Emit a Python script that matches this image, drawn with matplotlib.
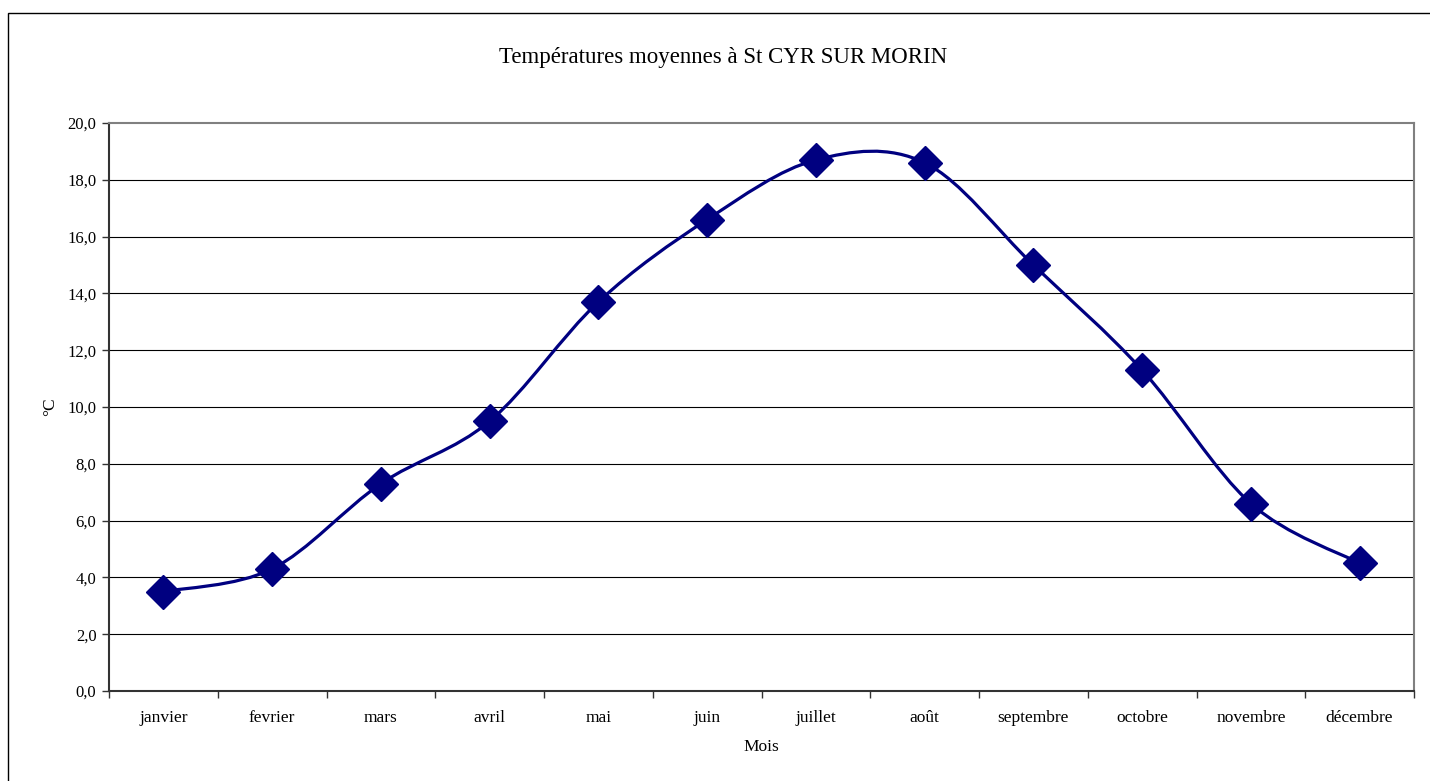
import matplotlib
matplotlib.use("Agg")
import matplotlib.pyplot as plt
from matplotlib.path import Path
from matplotlib.patches import PathPatch, Rectangle
from matplotlib.ticker import FuncFormatter, FixedLocator
import numpy as np

plt.rcParams['font.family'] = ['Liberation Serif', 'DejaVu Serif']

mois = ["janvier", "fevrier", "mars", "avril", "mai", "juin", "juillet",
        "août", "septembre", "octobre", "novembre", "décembre"]
temperatures = [3.5, 4.3, 7.3, 9.5, 13.7, 16.6, 18.7, 18.6, 15.0, 11.3, 6.6, 4.5]
y_ticks = [0, 2, 4, 6, 8, 10, 12, 14, 16, 18, 20]
titre = "Températures moyennes à St CYR SUR MORIN"

W, H = 1430, 781
fig = plt.figure(figsize=(W / 100, H / 100), dpi=100)
fig.patch.set_facecolor('white')

# outer chart border
fig.patches.append(Rectangle((8 / W, -0.01), 1.5, 1 - 13 / H + 0.01,
                             transform=fig.transFigure, fill=False,
                             edgecolor='black', linewidth=1.0))

ax = fig.add_axes([109 / W, 1 - 691 / H, (1414 - 109) / W, (691 - 123) / H])
x = np.arange(len(mois))
ax.set_xlim(-0.5, len(mois) - 0.5)
ax.set_ylim(0, 20)

# gridlines
for t in y_ticks[1:-1]:
    ax.axhline(t, color='black', linewidth=0.8, zorder=1)

# smoothed line (Catmull-Rom style bezier like Excel)
pts = np.column_stack([x, temperatures]).astype(float)
verts = [tuple(pts[0])]
codes = [Path.MOVETO]
n = len(pts)
for i in range(n - 1):
    p0 = pts[i - 1] if i > 0 else pts[i]
    p1 = pts[i]
    p2 = pts[i + 1]
    p3 = pts[i + 2] if i + 2 < n else pts[i + 1]
    c1 = p1 + (p2 - p0) / 6.0
    c2 = p2 - (p3 - p1) / 6.0
    verts += [tuple(c1), tuple(c2), tuple(p2)]
    codes += [Path.CURVE4] * 3
ax.add_patch(PathPatch(Path(verts, codes), facecolor='none',
                       edgecolor='#000080', linewidth=2.3, zorder=3))
ax.plot(x, temperatures, linestyle='none', marker='D', markersize=17,
        color='#000080', zorder=4)

# spines
for s in ['top', 'right']:
    ax.spines[s].set_color('#808080')
    ax.spines[s].set_linewidth(1.5)
for s in ['left', 'bottom']:
    ax.spines[s].set_color('#333333')
    ax.spines[s].set_linewidth(1.5)

ax.yaxis.set_major_locator(FixedLocator(y_ticks))
ax.yaxis.set_major_formatter(FuncFormatter(lambda v, p: f"{v:.1f}".replace('.', ',')))
ax.tick_params(axis='y', direction='out', length=5, width=1, color='#333333',
               labelsize=12, pad=4)

ax.set_xticks(np.arange(-0.5, len(mois), 1.0))
ax.set_xticklabels([])
ax.set_xticks(x, minor=True)
ax.set_xticklabels(mois, minor=True)
ax.tick_params(axis='x', which='major', direction='out', length=5, width=1,
               color='#333333')
ax.tick_params(axis='x', which='minor', length=0, labelsize=12.5, pad=14)

ax.set_ylabel("°C", fontsize=12.5, labelpad=7)
ax.set_xlabel("Mois", fontsize=12.5, labelpad=9)
fig.text(723 / W, 1 - 58 / H, titre, ha='center', va='center', fontsize=16.5)

fig.savefig("out.png", dpi=100, facecolor='white')
